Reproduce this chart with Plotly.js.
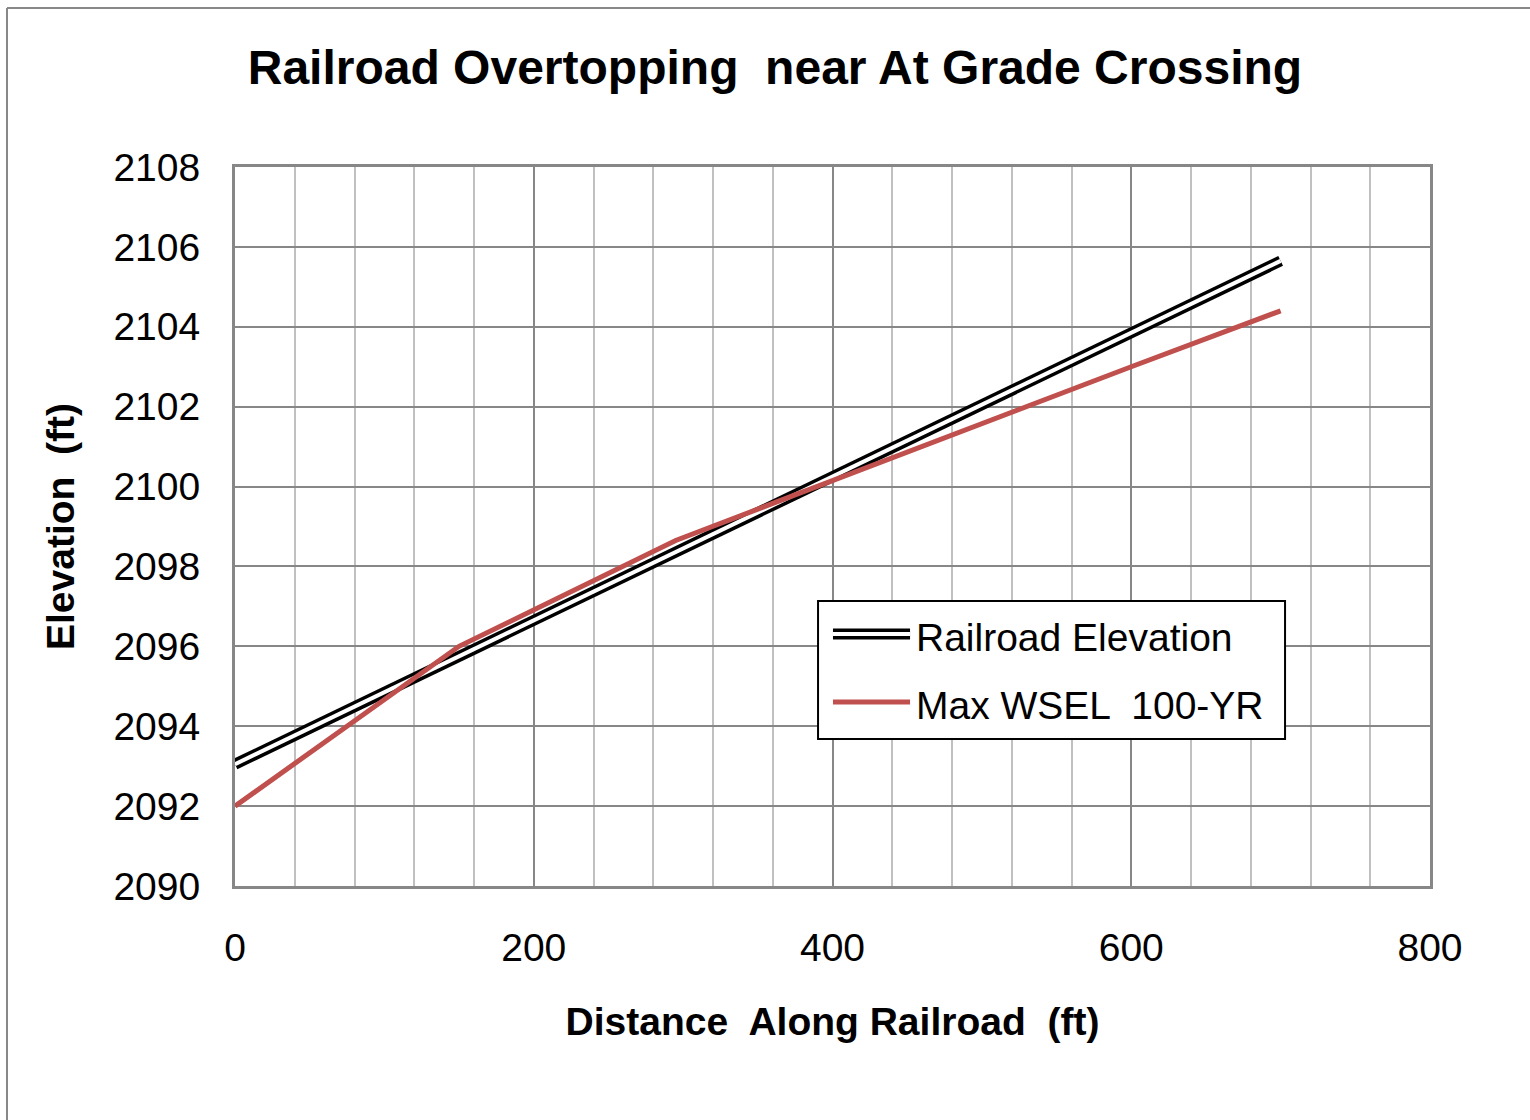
<!DOCTYPE html>
<html>
<head>
<meta charset="utf-8">
<script src="https://cdn.plot.ly/plotly-3.0.1.min.js"></script>
<style>html,body{margin:0;padding:0;background:#fff;}#chart{width:1530px;height:1120px;}</style>
</head>
<body>
<div id="chart"></div>
<script>
// Data
const railDistance = [0, 700];
const railElevation = [2093.05, 2105.65];
const wselDistance = [0, 150, 295, 400, 500, 600, 700];
const wselElevation = [2092.0, 2096.0, 2098.65, 2100.15, 2101.6, 2103.0, 2104.4];
const seriesNames = ["Railroad Elevation", "Max WSEL  100-YR"];
const chartTitle = "Railroad Overtopping  near At Grade Crossing";
const xTitle = "Distance  Along Railroad  (ft)";
const yTitle = "Elevation  (ft)";

const FONT = '"Liberation Sans", Arial, sans-serif';
const GRID = '#878787';
const MINOR = '#c0c0c0';
const RED = '#C0504D';

const traces = [
  {x: railDistance, y: railElevation, mode: 'lines', name: seriesNames[0],
   line: {color: '#000', width: 11}, showlegend: false, hoverinfo: 'skip'},
  {x: railDistance, y: railElevation, mode: 'lines', name: seriesNames[0] + ' (inner)',
   line: {color: '#fff', width: 4}, showlegend: false, hoverinfo: 'skip'},
  {x: wselDistance, y: wselElevation, mode: 'lines', name: seriesNames[1],
   line: {color: RED, width: 5}, showlegend: false}
];

// legend box geometry (paper coordinates)
const lx0 = 0.4879, lx1 = 0.8787, ly0 = 0.2045, ly1 = 0.3964;
const s0 = 0.5004, s1 = 0.5649, r1 = 0.3505, r2 = 0.2559, tx = 0.5682;

const shapes = [
  // outer chart border (cut off at right and bottom like the reference)
  {type: 'line', xref: 'paper', yref: 'paper', x0: -0.1908, x1: 1.2, y0: 1.2211, y1: 1.2211, line: {color: '#888', width: 2}},
  {type: 'line', xref: 'paper', yref: 'paper', x0: -0.1908, x1: -0.1908, y0: 1.2211, y1: -0.4, line: {color: '#888', width: 2}},
  // legend box
  {type: 'rect', xref: 'paper', yref: 'paper', x0: lx0, x1: lx1, y0: ly0, y1: ly1, fillcolor: '#fff', line: {color: '#000', width: 2}, layer: 'above'},
  {type: 'line', xref: 'paper', yref: 'paper', x0: s0, x1: s1, y0: r1, y1: r1, line: {color: '#000', width: 11}, layer: 'above'},
  {type: 'line', xref: 'paper', yref: 'paper', x0: s0, x1: s1, y0: r1, y1: r1, line: {color: '#fff', width: 4}, layer: 'above'},
  {type: 'line', xref: 'paper', yref: 'paper', x0: s0, x1: s1, y0: r2, y1: r2, line: {color: RED, width: 5}, layer: 'above'}
];

const annotations = [
  {xref: 'paper', yref: 'paper', x: tx, y: 0.3463, xanchor: 'left', yanchor: 'middle', showarrow: false,
   text: seriesNames[0], font: {family: FONT, size: 39, color: '#000'}},
  {xref: 'paper', yref: 'paper', x: tx, y: 0.2517, xanchor: 'left', yanchor: 'middle', showarrow: false,
   text: seriesNames[1], font: {family: FONT, size: 39, color: '#000'}}
];

const layout = {
  width: 1530, height: 1120,
  margin: {l: 235, r: 100, t: 167, b: 234},
  paper_bgcolor: '#fff', plot_bgcolor: '#fff',
  showlegend: false,
  title: {text: '<b>' + chartTitle + '</b>', xref: 'container', yref: 'container', x: 0.5065, y: 0.940,
          xanchor: 'center', yanchor: 'middle', font: {family: FONT, size: 48, color: '#000'}},
  xaxis: {
    range: [0, 800], dtick: 200, tick0: 0,
    showgrid: true, gridcolor: GRID, gridwidth: 2,
    minor: {dtick: 40, showgrid: true, gridcolor: MINOR, gridwidth: 2},
    showline: true, mirror: true, linecolor: GRID, linewidth: 3,
    zeroline: false, ticks: '', ticklabelstandoff: 25,
    tickfont: {family: FONT, size: 39, color: '#000'},
    title: {text: '<b>' + xTitle + '</b>', standoff: 40, font: {family: FONT, size: 39, color: '#000'}}
  },
  yaxis: {
    range: [2090, 2108], dtick: 2, tick0: 2090,
    showgrid: true, gridcolor: GRID, gridwidth: 2,
    showline: true, mirror: true, linecolor: GRID, linewidth: 3,
    zeroline: false, ticks: '', ticklabelstandoff: 24,
    tickfont: {family: FONT, size: 39, color: '#000'},
    title: {text: '<b>' + yTitle + '</b>', standoff: 27, font: {family: FONT, size: 39, color: '#000'}}
  },
  shapes: shapes,
  annotations: annotations
};

Plotly.newPlot('chart', traces, layout, {displayModeBar: false, staticPlot: true});
</script>
</body>
</html>
